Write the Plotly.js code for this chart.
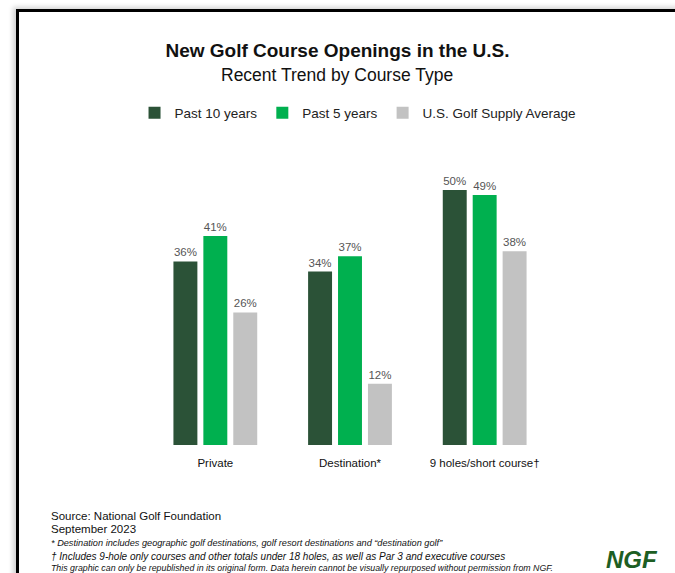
<!DOCTYPE html>
<html>
<head>
<meta charset="utf-8">
<script src="https://cdn.plot.ly/plotly-3.0.1.min.js"></script>
<style>
  html, body { margin: 0; padding: 0; background: #ffffff; }
  #wrap { position: relative; width: 675px; height: 573px; overflow: hidden; background: #ffffff; }
  #chart { position: absolute; left: 0; top: 0; width: 675px; height: 573px; }
  #frame { position: absolute; left: 16px; top: 9px; width: 700px; height: 600px;
           border-top: 3px solid #000; border-left: 3px solid #000;
           box-shadow: -3px -2px 5px rgba(0,0,0,0.18); pointer-events: none; }
</style>
</head>
<body>
<div id="wrap">
  <div id="chart"></div>
  <div id="frame"></div>
</div>
<script>
const categories = ["Private", "Destination*", "9 holes/short course\u2020"];
const seriesNames = ["Past 10 years", "Past 5 years", "U.S. Golf Supply Average"];
const past10 = [36, 34, 50];
const past5 = [41, 37, 49];
const supplyAvg = [26, 12, 38];
const seriesColors = ["#2b5237", "#00b04f", "#c2c2c2"];

const FONT = "Liberation Sans, Arial, sans-serif";
const seriesValues = [past10, past5, supplyAvg];

// layout geometry (pixels)
const W = 675, H = 573;
const M = { l: 147.5, r: 122.5, t: 139, b: 128 };
const PW = W - M.l - M.r, PH = H - M.t - M.b;
const px = x => (x - M.l) / PW;          // pixel x -> paper x
const py = y => (H - M.b - y) / PH;      // pixel y -> paper y

const traces = seriesValues.map((vals, i) => ({
  type: "bar",
  name: seriesNames[i],
  x: categories,
  y: vals,
  marker: { color: seriesColors[i], line: { width: 0 } },
  text: vals.map(v => v + "%"),
  textposition: "outside",
  textfont: { family: FONT, size: 11.5, color: "#555555" },
  cliponaxis: false,
  hoverinfo: "skip"
}));

function note(text, x, y, size, anchor, color) {
  return { text: text, xref: "paper", yref: "paper", x: px(x), y: py(y),
           xanchor: anchor || "left", yanchor: "middle", showarrow: false,
           font: { family: FONT, size: size, color: color || "#111111" } };
}

const layout = {
  width: W,
  height: H,
  paper_bgcolor: "#ffffff",
  plot_bgcolor: "#ffffff",
  font: { family: FONT, color: "#111111" },
  margin: { l: M.l, r: M.r, t: M.t, b: M.b, pad: 0 },
  barmode: "group",
  bargap: 0.3333,
  bargroupgap: 0.2,
  showlegend: true,
  title: {
    text: "<b>New Golf Course Openings in the U.S.</b>",
    font: { family: FONT, size: 19, color: "#111111" },
    x: 0.5, xref: "container", xanchor: "center",
    y: 1 - 50 / H, yref: "container", yanchor: "middle"
  },
  legend: {
    orientation: "h",
    x: px(134), xref: "paper", xanchor: "left",
    y: py(113), yref: "paper", yanchor: "middle",
    font: { family: FONT, size: 13.5, color: "#222222" },
    itemwidth: 30,
    tracegroupgap: 0,
    traceorder: "normal",
    bgcolor: "rgba(0,0,0,0)"
  },
  xaxis: {
    type: "category",
    range: [-0.5, 2.5],
    showgrid: false,
    zeroline: false,
    showline: false,
    ticks: "",
    ticklabelstandoff: 9,
    tickfont: { family: FONT, size: 11.5, color: "#111111" },
    fixedrange: true
  },
  yaxis: {
    range: [0, 60],
    visible: false,
    showgrid: false,
    zeroline: false,
    fixedrange: true
  },
  annotations: [
    note("Recent Trend by Course Type", 337, 75, 17.5, "center"),
    note("Source: National Golf Foundation", 48, 516, 11.5),
    note("September 2023", 48, 529, 11.5),
    note("<i>* Destination includes geographic golf destinations, golf resort destinations and \u201cdestination golf\u201d</i>", 48, 542.5, 9.2),
    note("<i>\u2020 Includes 9-hole only courses and other totals under 18 holes, as well as Par 3 and executive courses</i>", 48, 556, 10),
    note("<i>This graphic can only be republished in its original form. Data herein cannot be visually repurposed without permission from NGF.</i>", 48, 568, 8.8),
    note("<b><i>NGF</i></b>", 633, 559, 24, "center", "#1d5e23")
  ]
};

Plotly.newPlot("chart", traces, layout, { displayModeBar: false, staticPlot: true });
</script>
</body>
</html>
